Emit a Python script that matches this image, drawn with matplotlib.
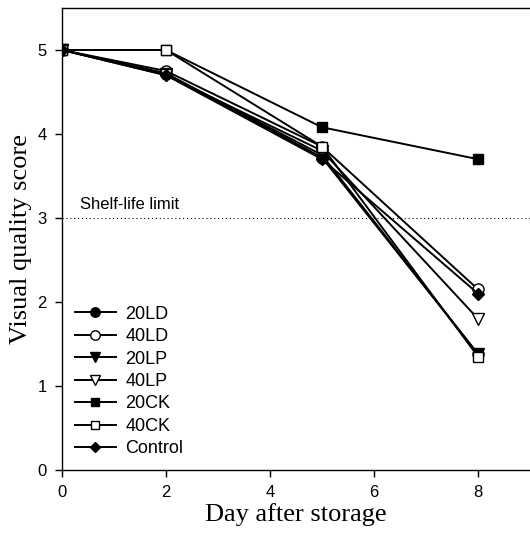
import numpy as np
import matplotlib.pyplot as plt

days = [0, 2, 5, 8]

labels = ["20LD", "40LD", "20LP", "40LP", "20CK", "40CK", "Control"]
v_20LD = [5.0, 4.72, 3.72, 1.38]
v_40LD = [5.0, 4.75, 3.85, 2.15]
v_20LP = [5.0, 4.72, 3.75, 1.38]
v_40LP = [5.0, 4.70, 3.80, 1.80]
v_20CK = [5.0, 5.0, 4.08, 3.70]
v_40CK = [5.0, 5.0, 3.85, 1.35]
v_control = [5.0, 4.70, 3.70, 2.10]
shelf_limit = 3

series = [v_20LD, v_40LD, v_20LP, v_40LP, v_20CK, v_40CK, v_control]
markers = ['o', 'o', 'v', 'v', 's', 's', 'D']
faces = ['black', 'white', 'black', 'white', 'black', 'white', 'black']
sizes = [8, 8, 8, 8, 7, 7, 6]

fig = plt.figure(figsize=(5.3, 5.34), dpi=100)
ax = fig.add_axes([0.117, 0.12, 0.883, 0.865])

ax.axhline(shelf_limit, color='black', linestyle=(0, (1, 2.5)), linewidth=0.8)
ax.text(0.35, shelf_limit + 0.07, "Shelf-life limit", fontsize=12,
        family='Liberation Sans', va='bottom')

for lab, vals, m, fc, ms in zip(labels, series, markers, faces, sizes):
    ax.plot(days, vals, color='black', linewidth=1.4, marker=m, markersize=ms,
            markerfacecolor=fc, markeredgecolor='black', markeredgewidth=1.0,
            label=lab)

ax.set_xlim(0, 9)
ax.set_ylim(0, 5.5)
ax.set_xticks([0, 2, 4, 6, 8])
ax.set_yticks([0, 1, 2, 3, 4, 5])
ax.spines['right'].set_visible(False)
for s in ['left', 'bottom', 'top']:
    ax.spines[s].set_linewidth(1.0)
ax.tick_params(direction='out', length=5, width=1.0, labelsize=12, pad=6)
for t in ax.get_xticklabels() + ax.get_yticklabels():
    t.set_family('Liberation Sans')

ax.set_xlabel("Day after storage", family='Liberation Serif', fontsize=19, labelpad=2)
ax.set_ylabel("Visual quality score", family='Liberation Serif', fontsize=19, labelpad=4)

leg = ax.legend(loc='lower left', bbox_to_anchor=(0.0, 0.0), frameon=False,
                prop={'family': 'Liberation Sans', 'size': 13},
                handlelength=2.3, labelspacing=0.3, handletextpad=0.5,
                markerscale=0.85, borderaxespad=0.3)

fig.savefig("out.png", dpi=100)
